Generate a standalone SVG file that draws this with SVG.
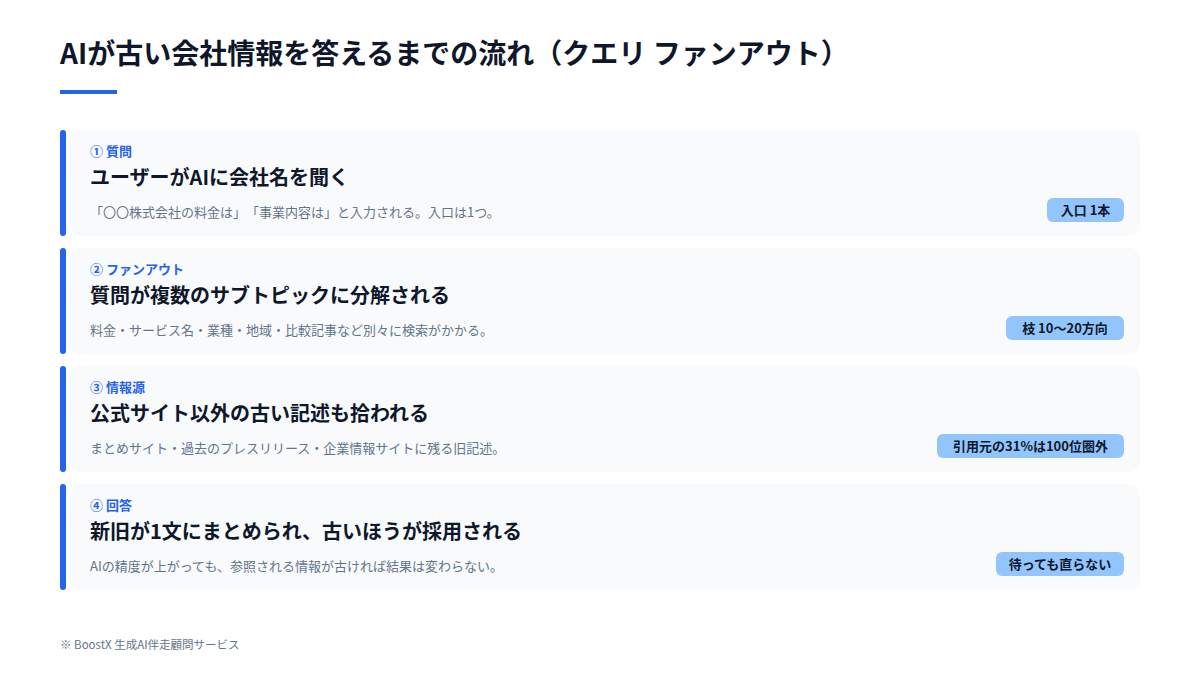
<svg xmlns="http://www.w3.org/2000/svg" width="1200" height="675" viewBox="0 0 1200 675">
<style>
text{font-family:"Noto Sans CJK JP","Noto Sans",sans-serif;text-spacing-trim:space-all;}
.h1{font-size:28px;font-weight:700;fill:#0F172A;}
.card{fill:#F8FAFC;}
.bar{fill:#2563EB;}
.lbl{font-size:13px;font-weight:700;fill:#2563EB;}
.ttl{font-size:20px;font-weight:700;fill:#0F172A;}
.dsc{font-size:13px;fill:#64748B;}
.bdg{fill:#93C5FD;}
.bt{font-size:13px;font-weight:700;fill:#0F172A;text-anchor:middle;}
.ft{font-size:11.5px;fill:#64748B;}
</style>
<rect width="1200" height="675" fill="#FFFFFF"/>
<text class="h1" x="60" y="64">AIが古い会社情報を答えるまでの流れ（クエリ ファンアウト）</text>
<rect x="60" y="90" width="57" height="4" fill="#2563EB"/>
<g id="node1">
<rect class="card" x="70" y="130" width="1070" height="106" rx="10"/>
<rect class="bar" x="60" y="130" width="6" height="106" rx="3"/>
<text class="lbl" x="90" y="156">① 質問</text>
<text class="ttl" x="90" y="185">ユーザーがAIに会社名を聞く</text>
<text class="dsc" x="90" y="217">「〇〇株式会社の料金は」「事業内容は」と入力される。入口は1つ。</text>
<rect class="bdg" x="1047" y="198" width="77" height="24" rx="6"/>
<text class="bt" x="1085.5" y="215">入口 1本</text>
</g>
<g id="node2">
<rect class="card" x="70" y="248" width="1070" height="106" rx="10"/>
<rect class="bar" x="60" y="248" width="6" height="106" rx="3"/>
<text class="lbl" x="90" y="274">② ファンアウト</text>
<text class="ttl" x="90" y="303">質問が複数のサブトピックに分解される</text>
<text class="dsc" x="90" y="335">料金・サービス名・業種・地域・比較記事など別々に検索がかかる。</text>
<rect class="bdg" x="1006" y="316" width="118" height="24" rx="6"/>
<text class="bt" x="1065" y="333">枝 10〜20方向</text>
</g>
<g id="node3">
<rect class="card" x="70" y="366" width="1070" height="106" rx="10"/>
<rect class="bar" x="60" y="366" width="6" height="106" rx="3"/>
<text class="lbl" x="90" y="392">③ 情報源</text>
<text class="ttl" x="90" y="421">公式サイト以外の古い記述も拾われる</text>
<text class="dsc" x="90" y="453">まとめサイト・過去のプレスリリース・企業情報サイトに残る旧記述。</text>
<rect class="bdg" x="937" y="434" width="187" height="24" rx="6"/>
<text class="bt" x="1030.5" y="451">引用元の31%は100位圏外</text>
</g>
<g id="node4">
<rect class="card" x="70" y="484" width="1070" height="106" rx="10"/>
<rect class="bar" x="60" y="484" width="6" height="106" rx="3"/>
<text class="lbl" x="90" y="510">④ 回答</text>
<text class="ttl" x="90" y="539">新旧が1文にまとめられ、古いほうが採用される</text>
<text class="dsc" x="90" y="571">AIの精度が上がっても、参照される情報が古ければ結果は変わらない。</text>
<rect class="bdg" x="996" y="552" width="128" height="24" rx="6"/>
<text class="bt" x="1060" y="569">待っても直らない</text>
</g>
<g id="connectors"></g>
<text class="ft" x="60" y="649">※ BoostX 生成AI伴走顧問サービス</text>
</svg>
